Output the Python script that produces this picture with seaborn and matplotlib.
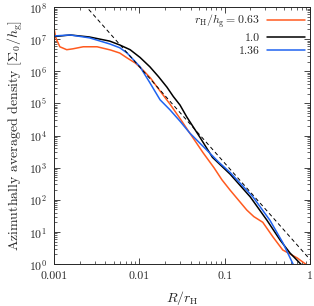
import numpy as np
import pandas as pd
import seaborn as sns
import matplotlib.pyplot as plt
import matplotlib.ticker as mticker

# radius in units of r_H, density in units of Sigma_0/h_g
r_063 = [0.001, 0.00105, 0.00117, 0.00141, 0.00166, 0.0022, 0.0032, 0.0046, 0.0059, 0.0072,
         0.0090, 0.011, 0.0135, 0.0162, 0.0229, 0.030, 0.039, 0.056, 0.075, 0.093, 0.116,
         0.182, 0.22, 0.28, 0.37, 0.48, 0.71, 0.89, 0.95]
sig_063 = [2.2e7, 1.1e7, 5.8e6, 4.7e6, 5.0e6, 5.8e6, 5.8e6, 4.6e6, 3.7e6, 2.6e6,
           1.8e6, 1.1e6, 6.2e5, 3.2e5, 9.5e4, 3.4e4, 1.2e4, 2.9e3, 1.0e3, 420, 200,
           48, 30, 20, 6.9, 2.75, 1.55, 1.0, 0.9]

r_100 = [0.001, 0.00155, 0.0026, 0.0045, 0.0059, 0.0078, 0.0102, 0.0133, 0.0168, 0.0211,
         0.025, 0.030, 0.036, 0.051, 0.072, 0.116, 0.20, 0.314, 0.447, 0.585, 0.71, 0.81]
sig_100 = [1.2e7, 1.35e7, 1.17e7, 8.7e6, 6.6e6, 4.7e6, 2.7e6, 1.38e6, 6.8e5, 3.2e5,
           1.65e5, 8.9e4, 3.8e4, 9.1e3, 2.1e3, 630, 123, 23, 5.6, 2.2, 1.3, 0.9]

r_136 = [0.001, 0.00155, 0.0026, 0.0045, 0.0059, 0.0072, 0.0102, 0.0133, 0.0175, 0.0229,
         0.030, 0.039, 0.062, 0.085, 0.116, 0.215, 0.34, 0.484, 0.634, 0.66]
sig_136 = [1.26e7, 1.35e7, 1.1e7, 7.1e6, 5.4e6, 3.7e6, 1.38e6, 4.4e5, 1.3e5, 6.3e4,
           2.8e4, 1.2e4, 3.5e3, 1.5e3, 710, 123, 23, 4.5, 1.0, 0.8]

# dashed reference power law, end points
r_ref = [0.002, 1.0]
sig_ref = [1.75e8, 1.4]

labels = [r'$r_{\rm H}/h_{\rm g} = 0.63$', '1.0', '1.36']
colors = ['#ff5a1f', 'black', '#1f63f0']

frames = []
for lab, r, s in zip(labels, [r_063, r_100, r_136], [sig_063, sig_100, sig_136]):
    frames.append(pd.DataFrame({'R': r, 'Sigma': s, 'case': lab}))
df = pd.concat(frames, ignore_index=True)

sns.set_style('ticks')
plt.rcParams['font.family'] = ['cmr10', 'DejaVu Serif']
plt.rcParams['mathtext.fontset'] = 'cm'
plt.rcParams['axes.formatter.use_mathtext'] = True
plt.rcParams['axes.unicode_minus'] = False

fig = plt.figure(figsize=(3.14, 3.06), dpi=100)
ax = fig.add_axes([0.172, 0.137, 0.815, 0.840])

sns.lineplot(data=df, x='R', y='Sigma', hue='case', palette=dict(zip(labels, colors)),
             hue_order=labels, sort=False, estimator=None, linewidth=1.1, ax=ax)
ax.plot(r_ref, sig_ref, color='black', linestyle=(0, (4, 3)), linewidth=0.7)

ax.set_xscale('log')
ax.set_yscale('log')
ax.set_xlim(0.001, 1)
ax.set_ylim(1, 1e8)

ax.set_xticks([0.001, 0.01, 0.1, 1])
ax.xaxis.set_major_formatter(mticker.FixedFormatter(['0.001', '0.01', '0.1', '1']))
ax.set_yticks([10.0 ** k for k in range(9)])
ax.yaxis.set_major_formatter(mticker.FuncFormatter(lambda v, p: r'$10^{%d}$' % round(np.log10(v))))
ax.yaxis.set_minor_locator(mticker.LogLocator(base=10, subs=np.arange(2, 10), numticks=20))
ax.yaxis.set_minor_formatter(mticker.NullFormatter())
ax.xaxis.set_minor_locator(mticker.LogLocator(base=10, subs=np.arange(2, 10), numticks=20))
ax.xaxis.set_minor_formatter(mticker.NullFormatter())

ax.tick_params(which='both', direction='in', top=True, right=True, labelsize=8.5, pad=5)
ax.tick_params(which='major', length=4, width=0.6)
ax.tick_params(which='minor', length=2, width=0.5)
for sp in ax.spines.values():
    sp.set_linewidth(0.7)

ax.set_xlabel(r'$R/r_{\rm H}$', fontsize=10, labelpad=6)
ax.set_ylabel(r'Azimuthally averaged density $[\Sigma_0/h_{\rm g}]$', fontsize=10, labelpad=3)

ax.legend(loc='upper right', frameon=False, markerfirst=False, fontsize=8.5,
          handlelength=3.2, labelspacing=0.25, borderaxespad=0.05, handletextpad=0.6)

fig.savefig('out.png', dpi=100)
